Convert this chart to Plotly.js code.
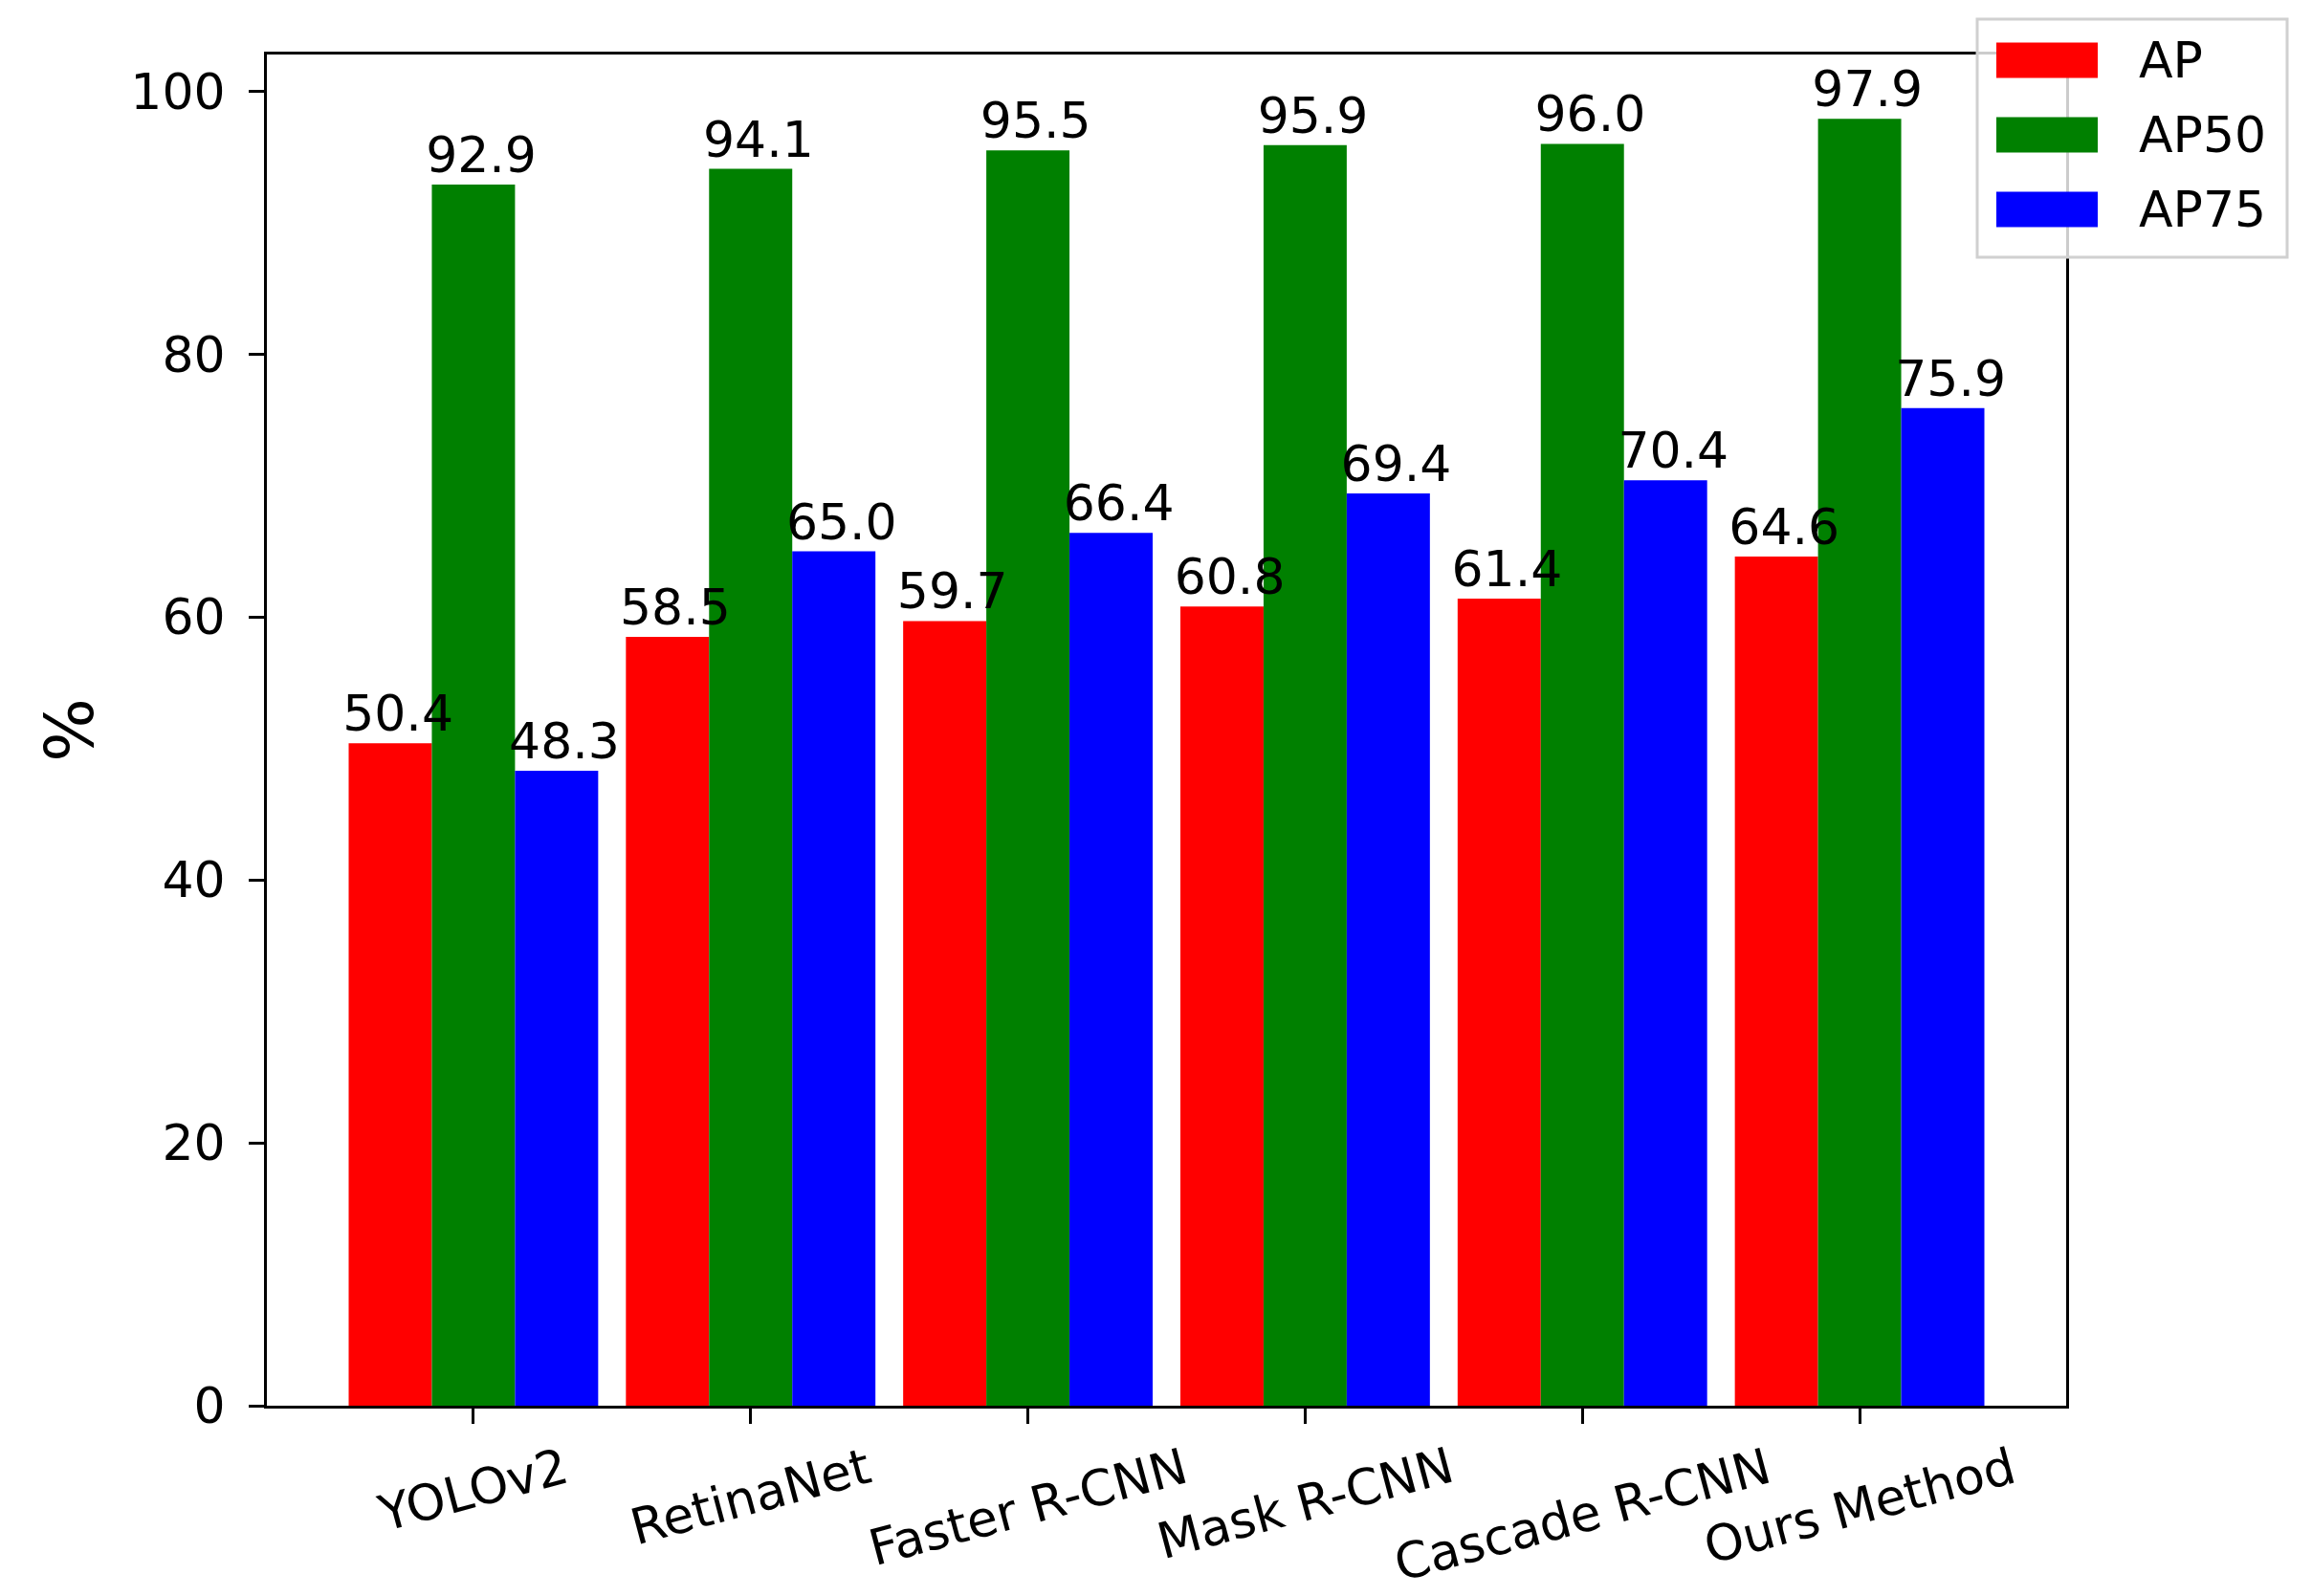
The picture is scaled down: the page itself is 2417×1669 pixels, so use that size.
<!DOCTYPE html>
<html>
<head>
<meta charset="utf-8">
<script src="https://cdn.plot.ly/plotly-3.0.1.min.js"></script>
<style>
  html, body { margin: 0; padding: 0; background: #fff; }
  #chart { width: 2417px; height: 1669px; }
</style>
</head>
<body>
<div id="chart"></div>
<script>
var methods = ["YOLOv2", "RetinaNet", "Faster R-CNN", "Mask R-CNN", "Cascade R-CNN", "Ours Method"];
var seriesNames = ["AP", "AP50", "AP75"];
var apValues = [50.4, 58.5, 59.7, 60.8, 61.4, 64.6];
var ap50Values = [92.9, 94.1, 95.5, 95.9, 96.0, 97.9];
var ap75Values = [48.3, 65.0, 66.4, 69.4, 70.4, 75.9];
var yTicks = [0, 20, 40, 60, 80, 100];

var FONT = "DejaVu Sans, Verdana, sans-serif";
var colors = ["#ff0000", "#008000", "#0000ff"];
var barW = 0.3;
var W = 2417, H = 1669;
var M = { l: 279, r: 257, t: 57, b: 199 };
var idx = methods.map(function (m, i) { return i; });

var series = [apValues, ap50Values, ap75Values];
var data = [];

// bars
series.forEach(function (vals, k) {
    data.push({
        type: "bar",
        name: seriesNames[k],
        x: idx,
        y: vals,
        width: barW,
        offset: -1.5 * barW + k * barW,
        marker: { color: colors[k], line: { width: 0 } },
        showlegend: false,
        hoverinfo: "y"
    });
});

// value labels on top of every bar, drawn after all bars so nothing hides them
series.forEach(function (vals, k) {
    data.push({
        type: "scatter",
        mode: "text",
        x: idx.map(function (i) { return i + (k - 1) * barW + 0.028; }),
        y: vals,
        text: vals.map(function (v) { return v.toFixed(1); }),
        textposition: "top center",
        textfont: { family: FONT, size: 52, color: "#000" },
        cliponaxis: false,
        showlegend: false,
        hoverinfo: "skip"
    });
});

// rotated category labels, centred under each tick like matplotlib
var annotations = methods.map(function (m, i) {
    return {
        x: i, y: 0, xref: "x", yref: "y",
        text: m, showarrow: false,
        textangle: -15,
        xanchor: "center", yanchor: "top",
        yshift: -30,
        font: { family: FONT, size: 52, color: "#000" }
    };
});

// legend box in the matplotlib style (wide patches), placed in pixels
var plotW = W - M.l - M.r, plotH = H - M.t - M.b;
function px(x) { return (x - M.l) / plotW; }
function py(y) { return (H - M.b - y) / plotH; }

var shapes = [{
    type: "rect", xref: "paper", yref: "paper", layer: "above",
    x0: px(2067), x1: px(2391), y0: py(269), y1: py(20),
    fillcolor: "rgba(255,255,255,0.8)",
    line: { color: "#d0d0d0", width: 3 }
}];
seriesNames.forEach(function (name, k) {
    var cy = 63 + k * 78;
    shapes.push({
        type: "rect", xref: "paper", yref: "paper", layer: "above",
        x0: px(2087), x1: px(2193), y0: py(cy + 18.5), y1: py(cy - 18.5),
        fillcolor: colors[k], line: { width: 0 }
    });
    annotations.push({
        x: px(2234), y: py(cy), xref: "paper", yref: "paper",
        text: name, showarrow: false,
        xanchor: "left", yanchor: "middle",
        font: { family: FONT, size: 52, color: "#000" }
    });
});

var layout = {
    width: W,
    height: H,
    margin: { l: M.l, r: M.r, t: M.t, b: M.b, pad: 0 },
    paper_bgcolor: "#fff",
    plot_bgcolor: "#fff",
    barmode: "overlay",
    showlegend: false,
    font: { family: FONT, size: 52, color: "#000" },
    xaxis: {
        range: [-0.745, 5.745],
        tickvals: idx,
        showgrid: false,
        zeroline: false,
        showline: true,
        linecolor: "#000",
        linewidth: 3,
        mirror: true,
        ticks: "outside",
        ticklen: 16,
        tickwidth: 3,
        tickcolor: "#000",
        showticklabels: false
    },
    yaxis: {
        range: [0, 102.8],
        tickvals: yTicks,
        showgrid: false,
        zeroline: false,
        showline: true,
        linecolor: "#000",
        linewidth: 3,
        mirror: true,
        ticks: "outside",
        ticklen: 16,
        tickwidth: 3,
        tickcolor: "#000",
        ticklabelstandoff: 14,
        tickfont: { family: FONT, size: 52, color: "#000" },
        title: { text: "%", standoff: 16, font: { family: FONT, size: 70, color: "#000" } }
    },
    shapes: shapes,
    annotations: annotations
};

Plotly.newPlot("chart", data, layout, { displayModeBar: false, staticPlot: true });
</script>
</body>
</html>
